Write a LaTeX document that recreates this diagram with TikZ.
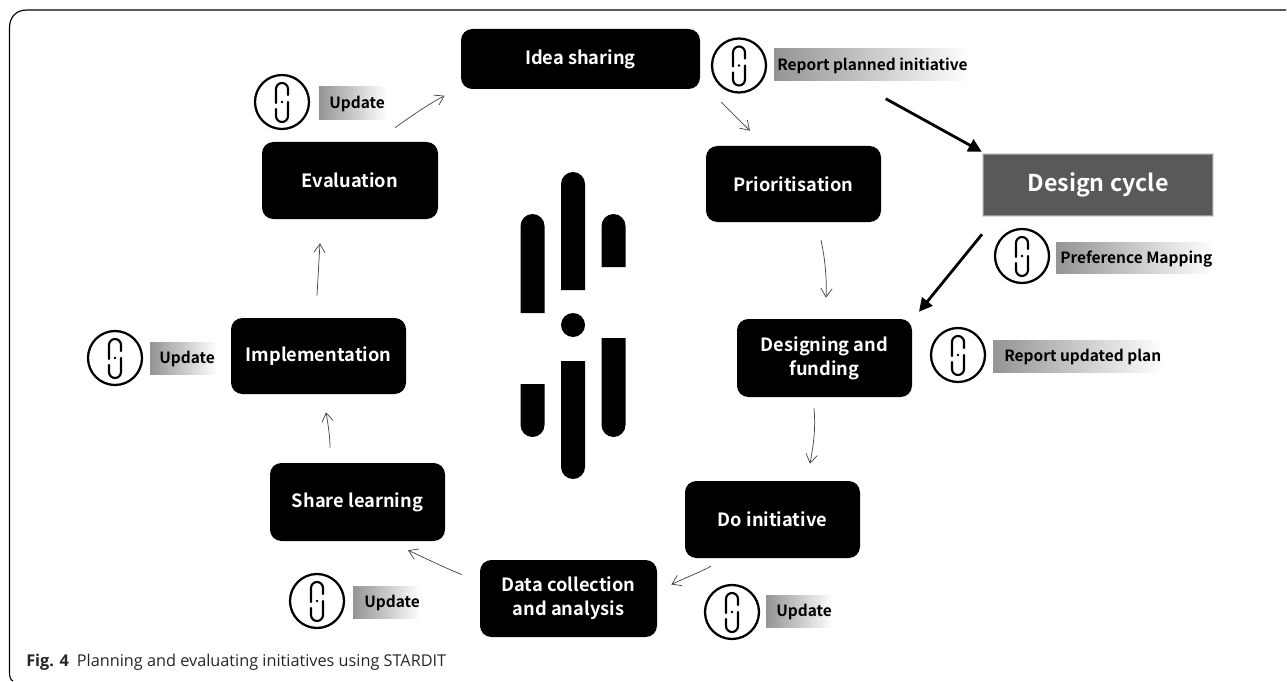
\documentclass[tikz,border=0pt]{standalone}
\usepackage{fontspec}
\setmainfont{Noto Sans CJK SC}[BoldFont={Noto Sans CJK SC Bold}]
\newfontfamily\capfont{Open Sans}
\usetikzlibrary{arrows.meta,calc}
\definecolor{cyclegray}{HTML}{595959}
\tikzset{
  x=0.75pt,y=-0.75pt,
  stepbox/.style 2 args={fill=black,draw=none,text=white,rounded corners=8.5pt,font=\bfseries\fontsize{13.7pt}{18pt}\selectfont,align=center,inner sep=0pt,minimum width=#1*0.75pt,minimum height=#2*0.75pt},
  conn/.style={draw=black!72,line width=0.55pt,-{Straight Barb[length=6.5pt,width=8.5pt,line width=0.55pt]}},
  thick conn/.style={draw=black,line width=2.1pt,-{Triangle[length=10pt,width=10pt]}},
  fadebar/.style={left color=black!42,right color=white,draw=none},
  lab/.style={anchor=base west,inner sep=0pt,text=black,font=\bfseries\fontsize{11.6pt}{14pt}\selectfont},
  stardit/.pic={
    \draw[line width=1.7pt,black] (0,0) circle (27);
    \draw[line width=1.6pt,line cap=round] (-6,1) -- (-6,-13) arc (180:360:6) -- (6,-7);
    \draw[line width=1.6pt,line cap=round] (6,0) -- (6,14) arc (0:180:6) -- (-6,7);
    \fill (0,0) circle (1.4);
  }
}
\begin{document}
\begin{tikzpicture}
\useasboundingbox (0,0) rectangle (1287,681);
% frame
\draw[line width=0.85pt,black] (1286,10) -- (27,10) .. controls (16,10) and (9.5,17) .. (9.5,28) -- (9.5,672) .. controls (9.5,677) and (10.5,680) .. (13,681);
% steps
\node[stepbox={239}{60}] (idea) at (580.5,59) {\raisebox{-3.8pt}[0pt][0pt]{Idea sharing}};
\node[stepbox={175}{76}] (prior) at (793.5,184) {Prioritisation};
\node[stepbox={176}{77}] (eval) at (350,180.5) {Evaluation};
\node[stepbox={175}{76}] (impl) at (318.5,356) {Implementation};
\node[stepbox={175}{78}] (design) at (824.5,358) {Designing and\\funding};
\node[stepbox={175}{77}] (do) at (772.5,519.5) {Do initiative};
\node[stepbox={175}{78}] (share) at (357.5,502) {Share learning};
\node[stepbox={177}{77}] (data) at (568.5,598.5) {Data collection\\and analysis};
% design cycle with a soft edge
\fill[cyclegray!22] (982,153) rectangle (1214,217);
\fill[cyclegray!65] (983,154) rectangle (1213,216);
\node[fill=cyclegray,text=white,inner sep=0pt,minimum width=228*0.75pt,minimum height=60*0.75pt,font=\bfseries\fontsize{17.4pt}{21pt}\selectfont] (cycle) at (1098,185) {\raisebox{-4.6pt}[0pt][0pt]{Design cycle}};
% connectors
\draw[conn] ([shift={(45,-14)}]eval.north) .. controls (410,117) and (427,105) .. ([shift={(-136,67)}]idea.north);
\draw[conn] ([shift={(21,13)}]idea.south east) -- ([shift={(-43.5,-15)}]prior.north);
\draw[conn] ([shift={(27.5,18)}]prior.south) .. controls (825,258) and (827,280) .. ([shift={(1.5,-21)}]design.north);
\draw[conn] ([shift={(-10.5,11)}]design.south) .. controls (816,430) and (813,447) .. ([shift={(37.5,-17)}]do.north);
\draw[conn] ([shift={(-61.5,8)}]do.south) .. controls (698,573) and (685,578) .. ([shift={(14,-14)}]data.east);
\draw[conn] ([shift={(-18,-24)}]data.west) .. controls (445,568) and (425,558) .. ([shift={(50.5,9)}]share.south);
\draw[conn] ([shift={(-27.5,-15)}]share.north) .. controls (330,436) and (328,424) .. ([shift={(7.5,18)}]impl.south);
\draw[conn] ([shift={(-1.5,-22)}]impl.north) .. controls (318,278) and (319,260) .. ([shift={(-30,24)}]eval.south);
\draw[thick conn] ([shift={(-98,-56)}]cycle.north west) -- ([shift={(-2,-3)}]cycle.north west);
\draw[thick conn] ([shift={(-116,19)}]cycle.south) -- ([shift={(94.5,-7)}]design.north);
% logo
\fill (520.5,313) -- (520.5,226) arc (180:360:12) -- (544.5,313) -- cycle;
\fill (561,290) -- (561,184) arc (180:360:12) -- (585,290) -- cycle;
\fill (601.5,267) -- (601.5,226) arc (180:360:12) -- (625.5,267) -- cycle;
\fill (573,325) circle (12);
\fill (520.5,384) -- (520.5,425) arc (180:0:12) -- (544.5,384) -- cycle;
\fill (561,361) -- (561,467) arc (180:0:12) -- (585,361) -- cycle;
\fill (601.5,338) -- (601.5,425) arc (180:0:12) -- (625.5,338) -- cycle;
% tags
\pic at (739,65.5) {stardit};
\shade[fadebar] (774,49) rectangle (970,81);
\node[lab] (t1) at (777,71) {Report planned initiative};
\pic at (282,102) {stardit};
\shade[fadebar] (319,87) rectangle (387,120);
\node[lab] (t2) at (329,109) {Update};
\pic at (1022,256) {stardit};
\shade[fadebar] (1056,242) rectangle (1214,273);
\node[lab] (t3) at (1060,263) {Preference Mapping};
\pic at (958,355) {stardit};
\shade[fadebar] (993,340) rectangle (1163,372);
\node[lab] (t4) at (1004,361) {Report updated plan};
\pic at (115,358) {stardit};
\shade[fadebar] (150,342) rectangle (217,374);
\node[lab] (t5) at (159,363) {Update};
\pic at (732,612) {stardit};
\shade[fadebar] (766,595) rectangle (833,627);
\node[lab] (t6) at (776,616) {Update};
\pic at (317,601) {stardit};
\shade[fadebar] (353,586) rectangle (420,618);
\node[lab] (t7) at (364,607) {Update};
% caption
\node[anchor=base west,inner sep=0pt,font=\capfont\fontsize{12.2pt}{14pt}\selectfont,text=black!85] (cap) at (26,666) {\textbf{Fig. 4}\hspace{6pt}Planning and evaluating initiatives using STARDIT};
\end{tikzpicture}
\end{document}
